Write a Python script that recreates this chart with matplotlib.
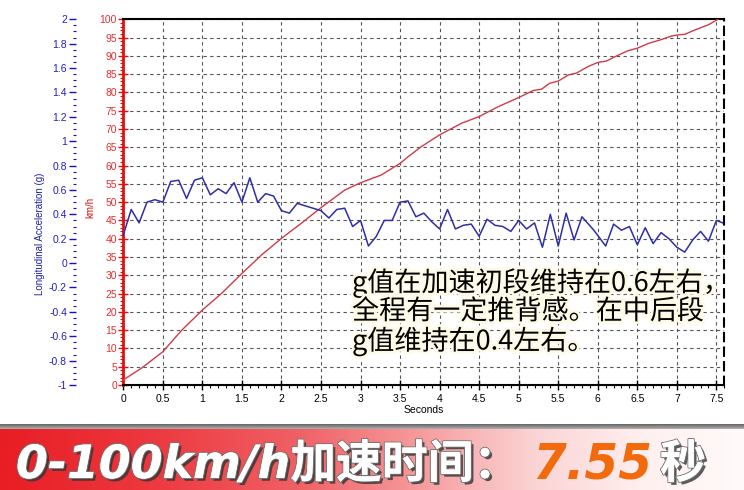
import matplotlib
matplotlib.use("Agg")
import matplotlib.pyplot as plt
import matplotlib.patheffects as pe
from matplotlib.ticker import MultipleLocator
import numpy as np

# --- data ------------------------------------------------------------------
# longitudinal acceleration (g) samples
accel_t = [0.0, 0.1, 0.2, 0.3, 0.4, 0.5, 0.6, 0.7, 0.8, 0.9,
           1.0, 1.1, 1.2, 1.3, 1.4, 1.5, 1.6, 1.7, 1.8, 1.9,
           2.0, 2.1, 2.2, 2.3, 2.4, 2.5, 2.6, 2.7, 2.8, 2.9,
           3.0, 3.1, 3.2, 3.3, 3.4, 3.5, 3.6, 3.7, 3.8, 3.9,
           4.0, 4.1, 4.2, 4.3, 4.4, 4.5, 4.6, 4.7, 4.8, 4.9,
           5.0, 5.1, 5.2, 5.3, 5.4, 5.5, 5.6, 5.7, 5.8, 5.95,
           6.1, 6.2, 6.3, 6.4, 6.5, 6.6, 6.7, 6.8, 6.9, 7.0,
           7.1, 7.2, 7.3, 7.4, 7.5, 7.58]
accel_g = [0.23, 0.44, 0.33, 0.50, 0.52, 0.50, 0.67, 0.68, 0.53, 0.68,
           0.70, 0.56, 0.61, 0.57, 0.66, 0.50, 0.70, 0.50, 0.57, 0.55,
           0.43, 0.41, 0.49, 0.47, 0.45, 0.43, 0.37, 0.44, 0.45, 0.30,
           0.35, 0.14, 0.22, 0.35, 0.35, 0.50, 0.51, 0.38, 0.41, 0.34,
           0.28, 0.44, 0.28, 0.31, 0.32, 0.22, 0.36, 0.31, 0.30, 0.26,
           0.35, 0.28, 0.33, 0.13, 0.40, 0.14, 0.41, 0.19, 0.38, 0.27,
           0.14, 0.32, 0.27, 0.30, 0.15, 0.29, 0.16, 0.25, 0.20, 0.13,
           0.09, 0.19, 0.26, 0.18, 0.35, 0.33]

# vehicle speed (km/h)
speed_t = [0.0, 0.23, 0.5, 0.74, 1.0, 1.24, 1.5, 1.75, 2.0, 2.25,
           2.5, 2.8, 3.0, 3.26, 3.5, 3.6, 3.77, 4.0, 4.28, 4.5,
           4.74, 5.0, 5.18, 5.29, 5.39, 5.5, 5.63, 5.73, 5.88, 6.0,
           6.11, 6.24, 6.38, 6.5, 6.64, 6.81, 6.93, 7.0, 7.1, 7.23,
           7.4, 7.52]
speed_kmh = [1.4, 4.6, 9.1, 15.0, 20.5, 25.0, 30.5, 35.6, 40.1, 44.2,
             48.5, 53.3, 55.3, 57.4, 60.6, 62.4, 65.2, 68.4, 71.6, 73.4,
             76.1, 78.6, 80.5, 80.9, 82.5, 83.1, 84.8, 85.3, 87.1, 88.2,
             88.6, 90.0, 91.4, 92.1, 93.4, 94.5, 95.4, 95.7, 95.9, 97.1,
             98.5, 100.0]

note_text = "g值在加速初段维持在0.6左右，\n全程有一定推背感。在中后段\ng值维持在0.4左右。"
banner_main = "0-100km/h加速时间："
banner_time = "7.55"
banner_unit = "秒"

W, H = 744, 490
plt.rcParams["font.family"] = ["Liberation Sans", "DejaVu Sans"]

fig = plt.figure(figsize=(W / 100, H / 100), dpi=100)
fig.patch.set_facecolor("white")

# --- speed axes (red, inner) ------------------------------------------------
ax = fig.add_axes([123.3 / W, 105 / H, 601 / W, 365.7 / H])
ax.set_xlim(0, 7.6)
ax.set_ylim(0, 100)
ax.xaxis.set_major_locator(MultipleLocator(0.5))
ax.xaxis.set_minor_locator(MultipleLocator(0.1))
ax.yaxis.set_major_locator(MultipleLocator(5))
ax.yaxis.set_minor_locator(MultipleLocator(1))
ax.grid(True, which="major", color="#555555", linestyle=(0, (3, 3)), linewidth=0.8)
ax.set_xticks(np.arange(0, 7.51, 0.5))
ax.set_xticklabels([f"{v:g}" for v in np.arange(0, 7.51, 0.5)])

red = "#e01010"
ax.spines["left"].set_color(red)
ax.spines["left"].set_linewidth(2.0)
ax.spines["top"].set_color("black")
ax.spines["top"].set_linewidth(1.5)
ax.spines["bottom"].set_color("black")
ax.spines["bottom"].set_linewidth(1.5)
ax.spines["right"].set_color("black")
ax.spines["right"].set_linestyle((0, (4, 3)))
ax.spines["right"].set_linewidth(1.5)

ax.tick_params(axis="y", which="major", colors=red, labelcolor="#e23030",
               direction="inout", length=7, width=1.0, labelsize=7.5, pad=1)
ax.tick_params(axis="y", which="minor", colors=red, direction="out", length=2.5, width=0.8)
ax.tick_params(axis="x", which="major", colors="black", direction="inout",
               length=7, width=1.0, labelsize=7.5, pad=3)
ax.tick_params(axis="x", which="minor", direction="out", length=2.5, width=0.8)

ax.plot(speed_t, speed_kmh, color="#d03a48", linewidth=1.0, zorder=3)
ax.set_xlabel("Seconds", fontsize=7.5, labelpad=1)

fig.text(90 / W, 1 - 207 / H, "km/h", color=red, fontsize=7, rotation=90,
         ha="center", va="center")

# --- acceleration axes (blue, outer) ----------------------------------------
ax2 = fig.add_axes(ax.get_position(), frameon=False)
ax2.set_xlim(0, 7.6)
ax2.set_ylim(-1, 2)
ax2.patch.set_visible(False)
ax2.xaxis.set_visible(False)
for s in ["top", "right", "bottom"]:
    ax2.spines[s].set_visible(False)
blue = "#1010c8"
ax2.spines["left"].set_visible(True)
ax2.spines["left"].set_position(("axes", -47.3 / 601))
ax2.spines["left"].set_color(blue)
ax2.spines["left"].set_linewidth(2.0)
ax2.yaxis.set_major_locator(MultipleLocator(0.2))
ax2.yaxis.set_minor_locator(MultipleLocator(0.05))
ax2.set_yticks(np.arange(-1, 2.01, 0.2))
ax2.set_yticklabels([f"{v:g}" if abs(v) > 1e-9 else "0" for v in np.round(np.arange(-1, 2.01, 0.2), 1)])
ax2.tick_params(axis="y", which="major", colors=blue, labelcolor="#2020c0",
                direction="out", length=5, width=1.0, labelsize=7.5, pad=1.5)
ax2.tick_params(axis="y", which="minor", colors=blue, direction="out", length=2.5, width=0.8)
ax2.plot(accel_t, accel_g, color="#2e2ea8", linewidth=1.1, zorder=4)

fig.text(40 / W, 1 - 234 / H, "Longitudinal Acceleration (g)", color="#2020a0",
         fontsize=7, rotation=90, ha="center", va="center")

# --- annotation --------------------------------------------------------------
ax.text(352 / W, 1 - 268 / H, note_text, transform=fig.transFigure,
        fontsize=19.5, family=["Noto Sans CJK SC", "DejaVu Sans"],
        color="black", ha="left", va="top", linespacing=1.05, zorder=6,
        path_effects=[pe.withStroke(linewidth=4, foreground="#fdfbe6")])

# --- bottom banner -----------------------------------------------------------
shadow_ax = fig.add_axes([0, 1 - 432 / H, 1, 8 / H])
shadow_ax.axis("off")
shade = np.linspace(0.35, 0.85, 8).reshape(-1, 1, 1) * np.ones((8, 2, 3))
shadow_ax.imshow(shade, aspect="auto", extent=[0, 1, 0, 1])

ban = fig.add_axes([0, 0, 1, 61 / H])
ban.axis("off")
xs = np.linspace(0, 1, 400)
stops = [0.0, 0.2, 0.4, 0.55, 0.72, 0.87, 1.0]
cols = np.array([[232, 30, 36], [236, 56, 62], [240, 96, 100], [245, 150, 152],
                 [251, 212, 212], [255, 240, 240], [255, 250, 250]]) / 255
grad = np.stack([np.interp(xs, stops, cols[:, i]) for i in range(3)], axis=-1)
ban.imshow(grad[np.newaxis, :, :], aspect="auto", extent=[0, 1, 0, 1])
ban.set_xlim(0, 1)
ban.set_ylim(0, 1)

shadow = [pe.withSimplePatchShadow(offset=(2, -2), shadow_rgbFace="#333333", alpha=0.8),
          pe.withStroke(linewidth=1.5, foreground="#777777"), pe.Normal()]
banner_font = ["DejaVu Sans", "Noto Sans CJK SC"]
fig.text(16 / W, 1 - 478 / H, banner_main, color="white", fontsize=33,
         fontweight="bold", fontstyle="italic", family=banner_font,
         ha="left", va="baseline", path_effects=shadow)
fig.text(532 / W, 1 - 478 / H, banner_time, color="#f26a0c", fontsize=35,
         fontweight="bold", fontstyle="italic", family=banner_font,
         ha="left", va="baseline")
fig.text(660 / W, 1 - 478 / H, banner_unit, color="white", fontsize=33,
         fontweight="bold", family=["Noto Sans CJK SC", "DejaVu Sans"],
         ha="left", va="baseline", path_effects=shadow)

fig.savefig("out.png", dpi=100)
